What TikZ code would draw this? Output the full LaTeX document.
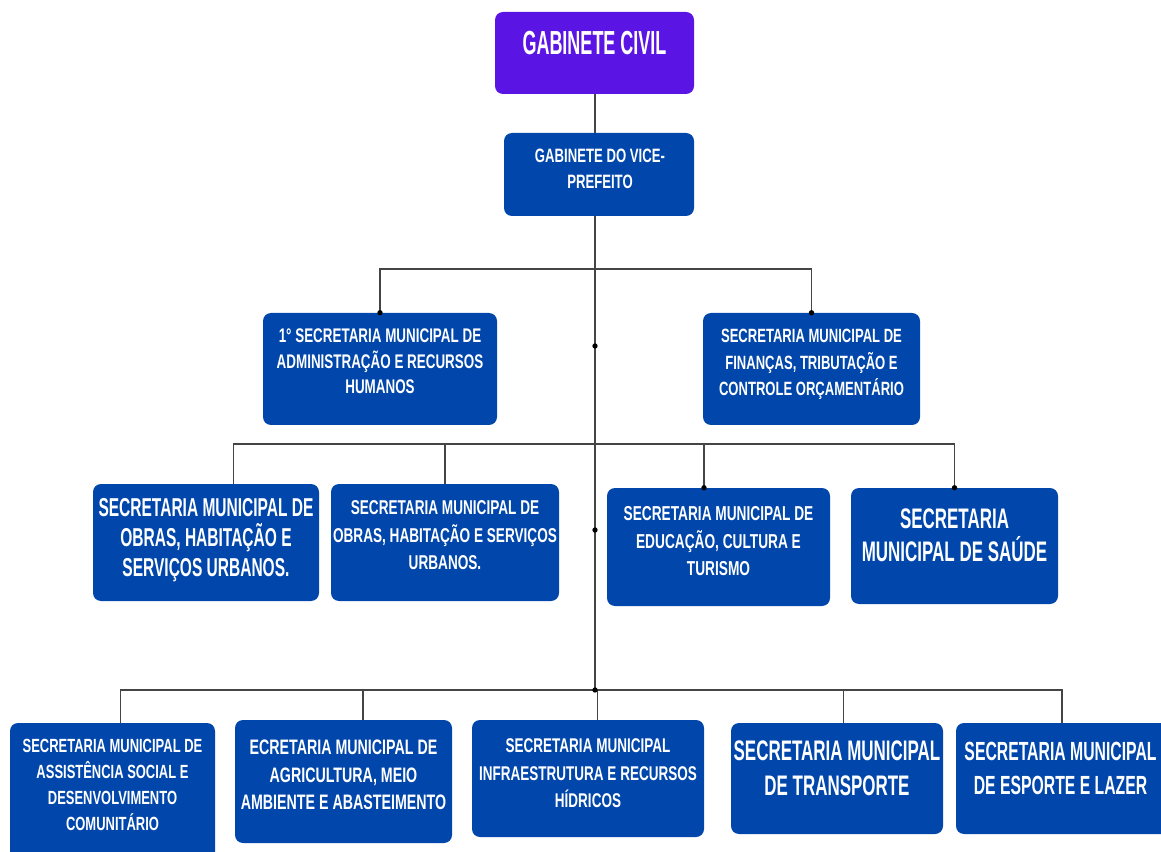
\documentclass[tikz,border=0pt]{standalone}
\usepackage{fontspec}
\setmainfont{Liberation Sans}[FakeStretch=0.68]
\usetikzlibrary{fit,calc}
\definecolor{boxblue}{HTML}{0046AB}
\definecolor{civilpurple}{HTML}{5A14E4}
\definecolor{linkgray}{HTML}{454545}
\newcommand{\fsz}[2]{\fontsize{#1pt}{#2pt}\selectfont\bfseries}
\newcommand{\tall}{\addfontfeatures{FakeStretch=0.6}}
\begin{document}
\begin{tikzpicture}[x=0.75pt, y=-0.75pt,
    box/.style={fill=boxblue, rounded corners=6pt, inner sep=0pt},
    lbl/.style={text=white, align=center, anchor=north, inner sep=0pt},
    link/.style={draw=linkgray, line width=0.9pt}]
        \useasboundingbox (0,0) rectangle (1161,852);
        \clip (0,0) rectangle (1161,852);
        % boxes
        \node[box, fill=civilpurple, fit={(495,12) (694,94)}] (civil) {};
        \node[box, fit={(504,133) (694,216)}] (vice) {};
        \node[box, fit={(263,313) (497,425)}] (sec1) {};
        \node[box, fit={(703,313) (920,425)}] (fin) {};
        \node[box, fit={(93,484) (319,601)}] (obras1) {};
        \node[box, fit={(331,484) (559,601)}] (obras2) {};
        \node[box, fit={(607,488) (830,606)}] (edu) {};
        \node[box, fit={(851,488) (1058,604)}] (saude) {};
        \node[box, fit={(10,723) (215,870)}] (assist) {};
        \node[box, fit={(235,720) (452,843)}] (agric) {};
        \node[box, fit={(472,720) (704,837)}] (infra) {};
        \node[box, fit={(731,723) (943,834)}] (transp) {};
        \node[box, fit={(956,723) (1170,834)}] (esporte) {};
        % texts
        \node[lbl, anchor=base, font=\fsz{25}{30}\addfontfeatures{FakeStretch=0.54}] (tcivil) at (594.5,55) {GABINETE CIVIL};
        \node[lbl, font=\fsz{14.5}{19.5}] (tvice) at (600,149.2) {GABINETE DO VICE-\\PREFEITO};
        \node[lbl, font=\fsz{14.8}{19.1}] (tsec1) at (380,328.9) {1° SECRETARIA MUNICIPAL DE\\ADMINISTRAÇÃO E RECURSOS\\HUMANOS};
        \node[lbl, font=\fsz{14.4}{19.9}] (tfin) at (811.5,329.2) {SECRETARIA MUNICIPAL DE\\FINANÇAS, TRIBUTAÇÃO E\\CONTROLE ORÇAMENTÁRIO};
        \node[lbl, font=\fsz{19.4}{22.5}\tall] (tobras1) at (206,498.5) {SECRETARIA MUNICIPAL DE\\OBRAS, HABITAÇÃO E\\SERVIÇOS URBANOS.};
        \node[lbl, font=\fsz{15}{20.6}] (tobras2) at (445,500.7) {SECRETARIA MUNICIPAL DE\\OBRAS, HABITAÇÃO E SERVIÇOS\\URBANOS.};
        \node[lbl, font=\fsz{15.1}{20.6}] (tedu) at (718.5,506.6) {SECRETARIA MUNICIPAL DE\\EDUCAÇÃO, CULTURA E\\TURISMO};
        \node[lbl, font=\fsz{21.2}{24.75}\tall] (tsaude) at (954.5,508.8) {SECRETARIA\\MUNICIPAL DE SAÚDE};
        \node[lbl, font=\fsz{14.3}{19.5}] (tassist) at (112.5,739.3) {SECRETARIA MUNICIPAL DE\\ASSISTÊNCIA SOCIAL E\\DESENVOLVIMENTO\\COMUNITÁRIO};
        \node[lbl, font=\fsz{15.7}{20.6}] (tagric) at (343.5,740) {ECRETARIA MUNICIPAL DE\\AGRICULTURA, MEIO\\AMBIENTE E ABASTEIMENTO};
        \node[lbl, font=\fsz{14.9}{20.6}] (tinfra) at (588,738.8) {SECRETARIA MUNICIPAL\\INFRAESTRUTURA E RECURSOS\\HÍDRICOS};
        \node[lbl, font=\fsz{21.2}{26.25}\tall] (ttransp) at (837,740.8) {SECRETARIA MUNICIPAL\\DE TRANSPORTE};
        \node[lbl, font=\fsz{19.7}{25.5}\tall] (tesporte) at (1060.5,742.2) {SECRETARIA MUNICIPAL\\DE ESPORTE E LAZER};
        % junctions
        \coordinate (j1) at (595,269);
        \coordinate (j2) at (595,444);
        \coordinate (j3) at (595,690);
        \coordinate (m1) at (595,346);
        \coordinate (m2) at (595,530);
        \foreach \b/\f in {obras1/0.62, edu/0.435, assist/0.54, agric/0.59, infra/0.54, transp/0.53, esporte/0.495}
            {\coordinate (\b top) at ($(\b.north west)!\f!(\b.north east)$);};
        % links
        \draw[link] (civil.south -| j1) -- (vice.north -| j1);
        \draw[link] (vice.south -| j1) -- (j3);
        \draw[link] (sec1.north) |- (j1) -| (fin.north);
        \draw[link] (obras1top) |- (j2) -| (saude.north);
        \draw[link] (obras2.north) -- (obras2.north |- j2);
        \draw[link] (edutop) -- (edutop |- j2);
        \draw[link] (assisttop) |- (j3) -| (esportetop);
        \foreach \b in {agric, infra, transp}
            {\draw[link] (\b top) -- (\b top |- j3);};
        % dots
        \foreach \p in {sec1.north, fin.north, m1, m2, edutop, saude.north, j3}
            {\fill (\p) circle[radius=2pt];};
\end{tikzpicture}
\end{document}
